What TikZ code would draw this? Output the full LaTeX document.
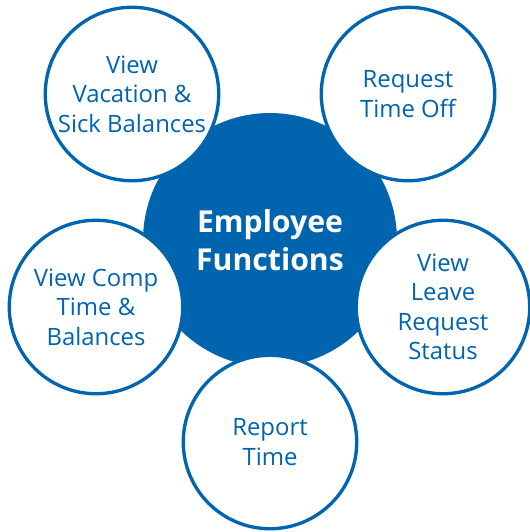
\documentclass[tikz,border=0pt]{standalone}
\usepackage{fontspec}
\setsansfont{Open Sans}
\usepackage{tikz}
\usetikzlibrary{shapes.geometric}

\definecolor{empblue}{HTML}{0064AF}

\tikzset{
    core/.style={
        circle, fill=empblue, text=white,
        minimum size=5.08cm, inner sep=0pt, align=center,
        font=\sffamily\bfseries\fontsize{17.2}{21.5}\selectfont
    },
    task/.style={
        circle, draw=empblue, fill=white, text=empblue,
        line width=1.9pt, minimum size=3.47cm, inner sep=0pt,
        align=center,
        font=\sffamily\fontsize{13.6}{16.8}\selectfont
    },
}

\begin{document}
\begin{tikzpicture}[x=0.02cm, y=-0.02cm]
    \useasboundingbox (0,0) rectangle (529,532);

    \node[core] (emp) at (270,240) {Employee\\Functions};

    % the five tasks around the hub
    \node[task] (vacation) at (132,94) {View\\Vacation \&\\Sick Balances};
    \node[task] (timeoff) at (408,94) {Request\\Time Off};
    \node[task] (comp) at (96,307) {View Comp\\Time \&\\Balances};
    \node[task] (leave) at (443,307) {View\\Leave\\Request\\Status};
    \node[task] (report) at (270,442) {Report\\Time};
\end{tikzpicture}
\end{document}
